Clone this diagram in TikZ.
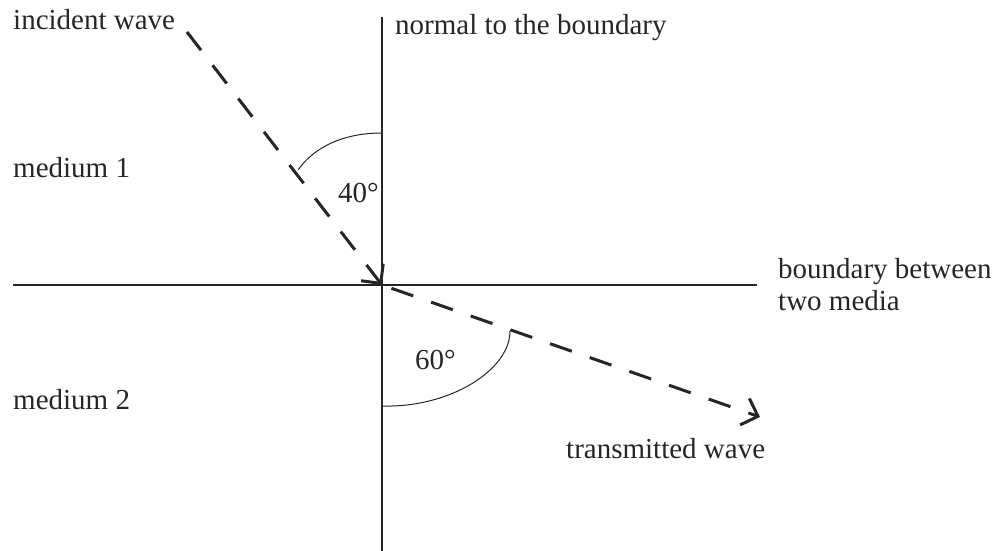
\documentclass[tikz,border=0pt]{standalone}
\usepackage{fontspec}
\setmainfont{Liberation Serif}
\usetikzlibrary{arrows.meta}
\tikzset{
  lbl/.style={anchor=base west, inner sep=0pt, font=\fontsize{29}{32}\selectfont, text=black!85},
  thin line/.style={line width=1.3pt, black!85},
  wave/.style={line width=3pt, black!85, dash pattern=on 23pt off 19pt, -{Straight Barb[length=14pt,width=28pt]}},
  anglearc/.style={line width=1pt, black!85}
}
\begin{document}
\begin{tikzpicture}[x=1pt,y=-1pt]
\useasboundingbox (0,0) rectangle (999,551);
% key points
\coordinate (O) at (382,285);
\coordinate (ntop) at (382,17);
\coordinate (nbot) at (382,551);
\coordinate (bl) at (13,285);
\coordinate (br) at (757,285);
\coordinate (istart) at (187,32);
\coordinate (tend) at (760,417);
% normal and boundary
\draw[thin line] (ntop) -- (nbot);
\draw[thin line] (bl) -- (br);
% waves
\draw[wave] (istart) -- (O);
\draw[wave, dash phase=-10pt] (O) -- (tend);
% angle arcs
\coordinate (a40s) at (382,133);
\coordinate (a40e) at (298,170);
\draw[anglearc] (a40s) .. controls (345,133) and (315,146) .. (a40e);
\coordinate (a60s) at (382,406);
\coordinate (a60e) at (510,331);
\draw[anglearc] (a60s) .. controls (450,408) and (510,370) .. (a60e);
% labels
\node[lbl] (inc) at (13,30) {incident wave};
\node[lbl] (norm) at (395,35) {normal to the boundary};
\node[lbl] (m1) at (13,177) {medium 1};
\node[lbl] (ang40) at (338,202) {40°};
\node[lbl] (bnd1) at (778,278) {boundary between};
\node[lbl] (bnd2) at (778,310) {two media};
\node[lbl] (ang60) at (415,369) {60°};
\node[lbl] (m2) at (13,409) {medium 2};
\node[lbl] (trans) at (566,458) {transmitted wave};
\end{tikzpicture}
\end{document}
